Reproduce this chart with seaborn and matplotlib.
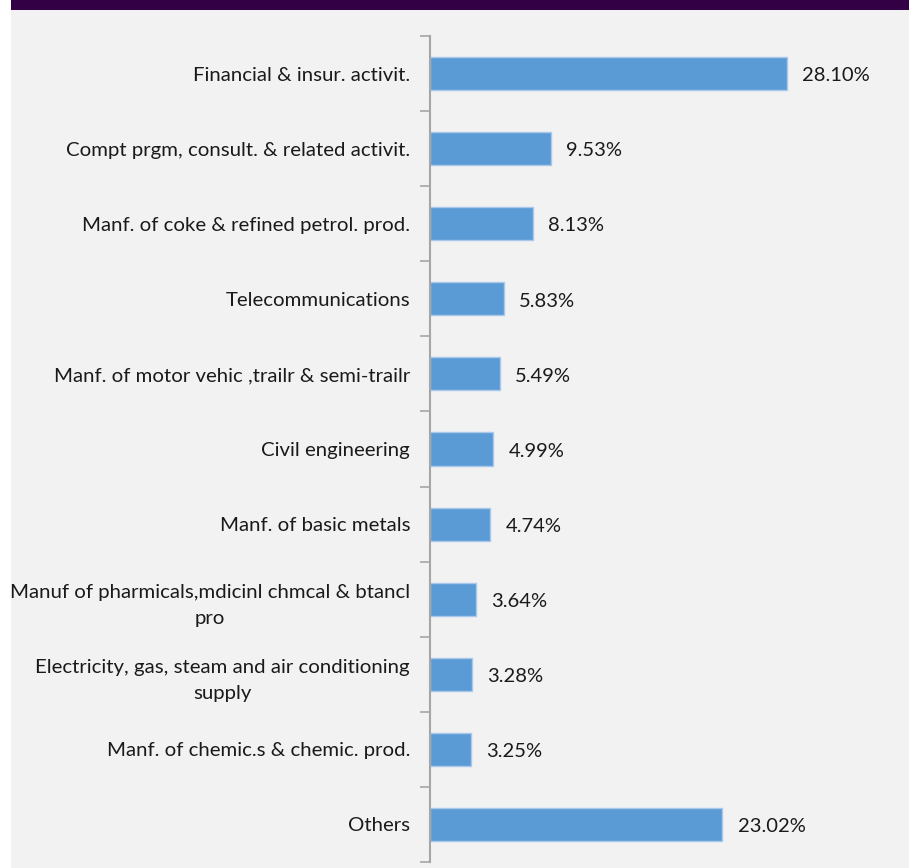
import matplotlib
matplotlib.use("Agg")
import matplotlib.pyplot as plt
import seaborn as sns
import pandas as pd
from matplotlib.patches import Rectangle

sectors = [
    "Financial & insur. activit.",
    "Compt prgm, consult. & related activit.",
    "Manf. of coke & refined petrol. prod.",
    "Telecommunications",
    "Manf. of motor vehic ,trailr & semi-trailr",
    "Civil engineering",
    "Manf. of basic metals",
    "Manuf of pharmicals,mdicinl chmcal & btancl\npro",
    "Electricity, gas, steam and air conditioning\nsupply",
    "Manf. of chemic.s & chemic. prod.",
    "Others",
]
shares = [28.10, 9.53, 8.13, 5.83, 5.49, 4.99, 4.74, 3.64, 3.28, 3.25, 23.02]

df = pd.DataFrame({"sector": sectors, "share": shares})

sns.set_theme(style="white")
plt.rcParams["font.family"] = ["Lato", "DejaVu Sans"]

W, H = 919, 868
fig = plt.figure(figsize=(W / 100, H / 100), dpi=100, facecolor="white")

# grey panel and purple header strip, kept behind the axes
fig.patches.append(Rectangle((11 / W, 0), (909 - 11) / W, (H - 10) / H,
                             transform=fig.transFigure, facecolor="#f2f2f2",
                             edgecolor="none", zorder=-10))
fig.patches.append(Rectangle((11 / W, (H - 10) / H), (909 - 11) / W, 10 / H,
                             transform=fig.transFigure, facecolor="#330046",
                             edgecolor="none", zorder=-10))

left = 430 / W
right = (430 + 35 * 12.7) / W
bottom = 1 - 862 / H
top = 1 - 36 / H
ax = fig.add_axes([left, bottom, right - left, top - bottom])
ax.set_facecolor("none")

sns.barplot(data=df, x="share", y="sector", orient="h", color="#5b9bd5",
            saturation=1, width=0.44, edgecolor="#a9c8ea", linewidth=1.0, ax=ax)

ax.set_xlim(0, 35)
ax.set_ylim(len(sectors) - 0.5, -0.5)

for i, v in enumerate(shares):
    ax.text(v + 1.2, i + 0.03, f"{v:.2f}%", va="center", ha="left",
            fontsize=14.5, color="#1a1a1a")

ax.set_xlabel("")
ax.set_ylabel("")
ax.set_xticks([])
ax.set_yticks(range(len(sectors)))
ax.set_yticklabels(sectors, fontsize=14.7, color="#1a1a1a")
for lab in ax.get_yticklabels():
    lab.set_multialignment("center")
    lab.set_linespacing(1.65)
ax.tick_params(axis="y", which="major", left=False, length=0, pad=14.4)

# category boundary ticks on the vertical axis
ax.set_yticks([i - 0.5 for i in range(len(sectors) + 1)], minor=True)
ax.tick_params(axis="y", which="minor", left=True, length=7, width=1.2,
               color="#a6a6a6", direction="out")

for s in ["top", "right", "bottom"]:
    ax.spines[s].set_visible(False)
ax.spines["left"].set_color("#a6a6a6")
ax.spines["left"].set_linewidth(1.5)

fig.savefig("out.png", dpi=100, facecolor="white")
